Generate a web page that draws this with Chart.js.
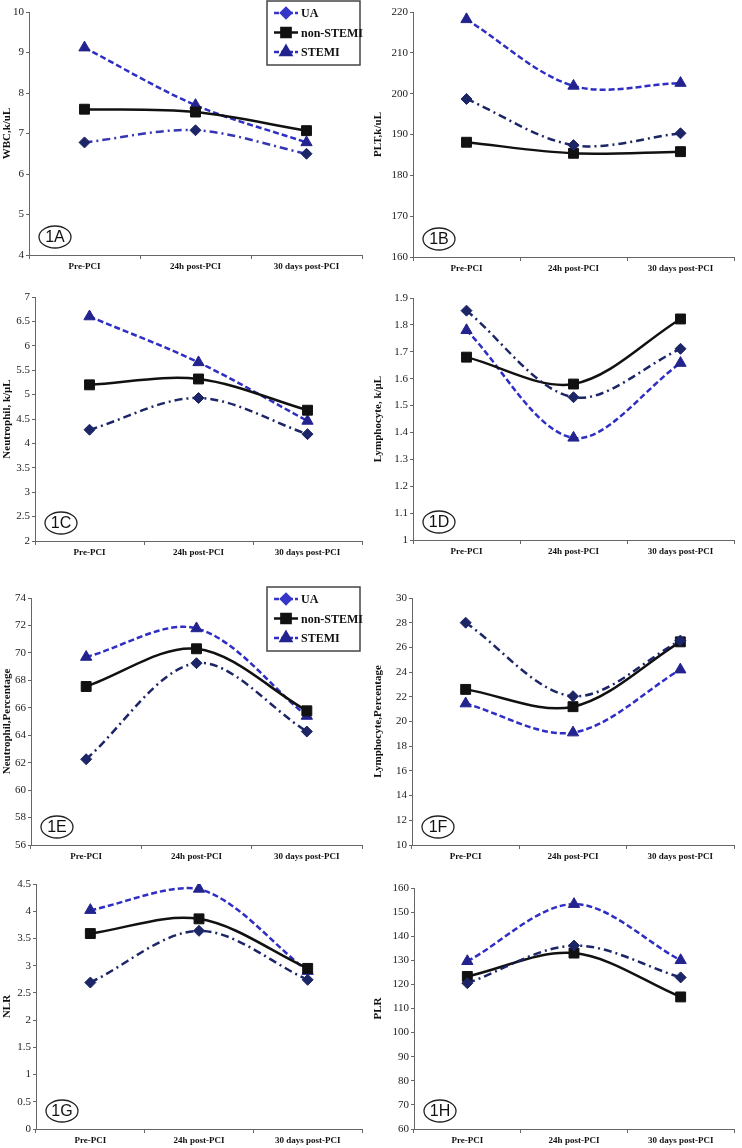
<!DOCTYPE html>
<html>
<head>
<meta charset="utf-8">
<script src="https://cdn.jsdelivr.net/npm/chart.js@4/dist/chart.umd.min.js"></script>
<style>
  body { margin: 0; background: #fff; width: 742px; height: 1148px; position: relative; overflow: hidden; }
  canvas { position: absolute; }
</style>
</head>
<body>
<canvas id="cA"></canvas>
<canvas id="cB"></canvas>
<canvas id="cC"></canvas>
<canvas id="cD"></canvas>
<canvas id="cE"></canvas>
<canvas id="cF"></canvas>
<canvas id="cG"></canvas>
<canvas id="cH"></canvas>
<script>
// categories and groups
const categories = ["Pre-PCI", "24h post-PCI", "30 days post-PCI"];
const groups = ["UA", "non-STEMI", "STEMI"];

// values (UA, non-STEMI, STEMI)
const wbcUA = [6.78, 7.08, 6.5];
const wbcNon = [7.6, 7.53, 7.07];
const wbcStemi = [9.12, 7.7, 6.78];

const pltUA = [198.7, 187.4, 190.3];
const pltNon = [188.1, 185.4, 185.8];
const pltStemi = [218.2, 201.9, 202.6];

const neuUA = [4.28, 4.93, 4.19];
const neuNon = [5.2, 5.32, 4.68];
const neuStemi = [6.6, 5.66, 4.46];

const lymUA = [1.853, 1.531, 1.711];
const lymNon = [1.68, 1.58, 1.822];
const lymStemi = [1.78, 1.38, 1.658];

const neuPctUA = [62.25, 69.25, 64.27];
const neuPctNon = [67.55, 70.3, 65.78];
const neuPctStemi = [69.7, 71.78, 65.4];

const lymPctUA = [28.0, 22.05, 26.55];
const lymPctNon = [22.6, 21.2, 26.45];
const lymPctStemi = [21.45, 19.1, 24.2];

const nlrUA = [2.69, 3.64, 2.74];
const nlrNon = [3.59, 3.86, 2.95];
const nlrStemi = [4.02, 4.41, 2.9];

const plrUA = [120.5, 136.1, 122.9];
const plrNon = [123.3, 133.0, 114.8];
const plrStemi = [129.6, 153.3, 130.0];

const panels = [
  { id: "cA", tag: "1A", title: "WBC,k/uL", sets: [wbcUA, wbcNon, wbcStemi], min: 4, max: 10, step: 1,
    left: 0, top: 0, h: 277, axisW: 29, padRight: 9, xH: 22, legend: true, ua: "#3636b4" },
  { id: "cB", tag: "1B", title: "PLT,k/uL", sets: [pltUA, pltNon, pltStemi], min: 160, max: 220, step: 10,
    left: 371, top: 0, h: 279, axisW: 42, padRight: 1, xH: 22 },
  { id: "cC", tag: "1C", title: "Neutrophil, k/\u03bcL", sets: [neuUA, neuNon, neuStemi], min: 2, max: 7, step: 0.5,
    left: 0, top: 285, h: 278, axisW: 35, padRight: 9, xH: 22 },
  { id: "cD", tag: "1D", title: "Lymphocyte, k/\u03bcL", sets: [lymUA, lymNon, lymStemi], min: 1, max: 1.9, step: 0.1,
    left: 371, top: 286, h: 276, axisW: 42, padRight: 1, xH: 22 },
  { id: "cE", tag: "1E", title: "Neutrophil,Percentage", sets: [neuPctUA, neuPctNon, neuPctStemi], min: 56, max: 74, step: 2,
    left: 0, top: 586, h: 281, axisW: 31, padRight: 9, xH: 22, legend: true },
  { id: "cF", tag: "1F", title: "Lymphocyte,Percentage", sets: [lymPctUA, lymPctNon, lymPctStemi], min: 10, max: 30, step: 2,
    left: 371, top: 586, h: 281, axisW: 41, padRight: 1, xH: 22 },
  { id: "cG", tag: "1G", title: "NLR", sets: [nlrUA, nlrNon, nlrStemi], min: 0, max: 4.5, step: 0.5,
    left: 0, top: 872, h: 276, axisW: 36, padRight: 9, xH: 19 },
  { id: "cH", tag: "1H", title: "PLR", sets: [plrUA, plrNon, plrStemi], min: 60, max: 160, step: 10,
    left: 371, top: 876, h: 272, axisW: 43, padRight: 0, xH: 19 }
];

const serif = "'Liberation Serif', 'Times New Roman', serif";

// panel tag in an ellipse + boxed legend
const decor = {
  id: "decor",
  afterDatasetsDraw(chart, args, opts) {
    const ctx = chart.ctx, a = chart.chartArea;
    ctx.save();
    const cx = a.left + 26, cy = a.bottom - 18;
    ctx.beginPath();
    ctx.ellipse(cx, cy, 16, 11, 0, 0, Math.PI * 2);
    ctx.lineWidth = 1.3;
    ctx.strokeStyle = "#222";
    ctx.stroke();
    ctx.fillStyle = "#111";
    ctx.font = "16px 'Liberation Sans', Arial, sans-serif";
    ctx.textAlign = "center";
    ctx.textBaseline = "middle";
    ctx.fillText(opts.tag, cx, cy + 1);

    if (opts.legend) {
      const bx = a.right - 95, by = a.top - 11;
      ctx.lineWidth = 1.5;
      ctx.strokeStyle = "#444";
      ctx.strokeRect(bx, by, 93, 64);
      chart.data.datasets.forEach((ds, i) => {
        const y = by + 12 + i * 19.5;
        ctx.save();
        ctx.beginPath();
        ctx.setLineDash(i === 1 ? [] : [5, 2]);
        ctx.strokeStyle = i === 0 ? "#3636c8" : ds.borderColor;
        ctx.lineWidth = 2.5;
        ctx.moveTo(bx + 7, y);
        ctx.lineTo(bx + 31, y);
        ctx.stroke();
        ctx.setLineDash([]);
        ctx.fillStyle = i === 0 ? "#3636c8" : ds.pointBackgroundColor;
        ctx.strokeStyle = ctx.fillStyle;
        Chart.helpers.drawPoint(ctx, { pointStyle: ds.pointStyle, radius: ds.pointRadius - 0.5, rotation: 0, borderWidth: 1 }, bx + 19, y);
        ctx.restore();
        ctx.fillStyle = "#111";
        ctx.font = "bold 12px " + serif;
        ctx.textAlign = "left";
        ctx.fillText(groups[i], bx + 34, y + 1);
      });
    }
    ctx.restore();
  }
};

panels.forEach(p => {
  const cv = document.getElementById(p.id);
  cv.width = 371;
  cv.height = p.h;
  cv.style.left = p.left + "px";
  cv.style.top = p.top + "px";

  const uaCol = p.ua || "#1c2566";
  const datasets = [
    { label: groups[0], data: p.sets[0], borderColor: uaCol, pointBackgroundColor: "#1c2566", pointBorderColor: "#1c2566",
      pointStyle: "rectRot", pointRadius: 5.5, borderDash: [8, 4, 2, 4], borderWidth: 2.5 },
    { label: groups[1], data: p.sets[1], borderColor: "#111", pointBackgroundColor: "#111", pointBorderColor: "#111",
      pointStyle: "rect", pointRadius: 7, borderWidth: 2.5 },
    { label: groups[2], data: p.sets[2], borderColor: "#2e2ec4", pointBackgroundColor: "#23238f", pointBorderColor: "#23238f",
      pointStyle: "triangle", pointRadius: 6.5, borderDash: [6, 3], borderWidth: 2.5 }
  ];
  datasets.forEach(d => { d.tension = 0.33; d.fill = false; d.pointBorderWidth = 1; });

  new Chart(cv, {
    type: "line",
    data: { labels: categories, datasets },
    plugins: [decor],
    options: {
      responsive: false,
      animation: false,
      devicePixelRatio: 1,
      layout: { padding: { top: 12, right: p.padRight, bottom: 0, left: 0 } },
      plugins: {
        legend: { display: false },
        tooltip: { enabled: false },
        decor: { tag: p.tag, legend: !!p.legend }
      },
      scales: {
        x: {
          offset: true,
          grid: { offset: true, drawOnChartArea: false, drawTicks: true, tickLength: 4, color: "#666" },
          border: { color: "#666", width: 1 },
          ticks: { color: "#111", font: { family: serif, size: 9, weight: "bold" }, padding: 2, maxRotation: 0, autoSkip: false },
          afterFit(s) { s.height = p.xH; }
        },
        y: {
          min: p.min,
          max: p.max,
          grid: { drawOnChartArea: false, drawTicks: true, tickLength: 3, color: "#666" },
          border: { color: "#666", width: 1 },
          ticks: {
            stepSize: p.step, color: "#222", font: { family: serif, size: 11 }, padding: 2,
            callback: v => String(Math.round(v * 100) / 100)
          },
          title: { display: true, text: p.title, color: "#111", font: { family: serif, size: 11, weight: "bold" }, padding: { top: 1, bottom: 0 } },
          afterFit(s) { s.width = p.axisW; }
        }
      }
    }
  });
});
</script>
</body>
</html>
